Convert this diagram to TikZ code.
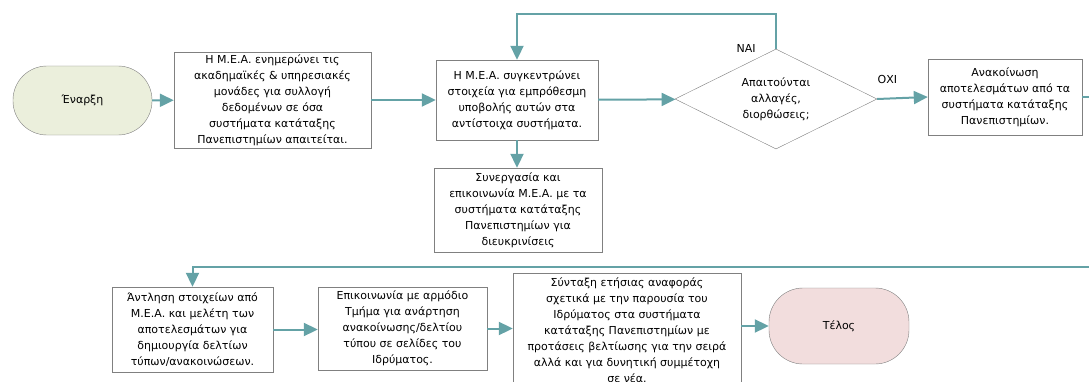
\documentclass[tikz,border=0pt]{standalone}
\usepackage{fontspec}
\setmainfont{DejaVu Sans}
\usepackage{tikz}
\usetikzlibrary{arrows.meta}
\usetikzlibrary{shapes.geometric}
\definecolor{flowcol}{RGB}{100,162,166}
\definecolor{linecol}{RGB}{128,128,128}
\definecolor{startcol}{RGB}{235,239,220}
\definecolor{endcol}{RGB}{242,221,221}
\begin{document}
\begin{tikzpicture}[
        x=1pt, y=1pt,
        font=\fontsize{11}{16}\selectfont,
        box/.style={draw=linecol, align=center, inner sep=2pt},
        term/.style={draw=linecol, rounded corners=34pt, align=center},
        flow/.style={draw=flowcol, line width=2pt, -{Triangle[length=14pt,width=13pt]}},
			]
		\useasboundingbox (0,0) rectangle (1089,381);
		\clip (0,0) rectangle (1089,381);
		\node [term, fill=startcol, minimum width=139pt, minimum height=69pt] (start) at (82.5,280.5) {Έναρξη};
		\node [box, minimum width=197pt, minimum height=96pt] (inform) at (272.5,281)
				{Η Μ.Ε.Α. ενημερώνει τις\\ακαδημαϊκές \& υπηρεσιακές\\μονάδες για συλλογή\\δεδομένων σε όσα\\συστήματα κατάταξης\\Πανεπιστημίων απαιτείται.};
		\node [box, minimum width=162pt, minimum height=80pt] (collect) at (517,281)
				{Η Μ.Ε.Α. συγκεντρώνει\\στοιχεία για εμπρόθεσμη\\υποβολής αυτών στα\\αντίστοιχα συστήματα.};
		\node [box, minimum width=168pt, minimum height=84pt] (cooperate) at (518,171)
				{Συνεργασία και\\επικοινωνία Μ.Ε.Α. με τα\\συστήματα κατάταξης\\Πανεπιστημίων για\\διευκρινίσεις};
		\node [draw=linecol, diamond, aspect=2, minimum width=202pt, minimum height=100pt, inner sep=0pt, align=center] (check) at (776,282)
				{Απαιτούνται\\αλλαγές,\\διορθώσεις;};
		\node [box, minimum width=154pt, minimum height=76pt] (announce) at (1005,284)
				{Ανακοίνωση\\αποτελεσμάτων από τα\\συστήματα κατάταξης\\Πανεπιστημίων.};
		\node [box, minimum width=161pt, minimum height=85pt] (extract) at (192.5,51.5)
				{Άντληση στοιχείων από\\Μ.Ε.Α. και μελέτη των\\αποτελεσμάτων για\\δημιουργία δελτίων\\τύπων/ανακοινώσεων.};
		\node [box, minimum width=169pt, minimum height=83pt] (contact) at (402.5,52.5)
				{Επικοινωνία με αρμόδιο\\Τμήμα για ανάρτηση\\ανακοίνωσης/δελτίου\\τύπου σε σελίδες του\\Ιδρύματος.};
		\node [box, minimum width=228pt, minimum height=114pt] (report) at (627,51)
				{Σύνταξη ετήσιας αναφοράς\\σχετικά με την παρουσία του\\Ιδρύματος στα συστήματα\\κατάταξης Πανεπιστημίων με\\προτάσεις βελτίωσης για την σειρά\\αλλά και για δυνητική συμμέτοχη\\σε νέα.};
		\node [term, fill=endcol, minimum width=140pt, minimum height=76pt] (finish) at (839,55) {Τέλος};
		\draw [flow] (start) -- (inform);
		\draw [flow] (inform) -- (collect);
		\draw [flow] (collect) -- (check);
		\draw [flow] (collect.south) -- (collect.south |- cooperate.north);
		\draw [flow] (check.north) node[left=16pt]{ΝΑΙ} -- ++(0,35) -| (collect.north);
		\draw [flow] (check.east) -- node[pos=0.2,above=11pt]{ΟΧΙ} (announce.west);
		\draw [flow] (announce.east) -- ++(20,0) -- ++(0,-170) -| (extract.north);
		\draw [flow] (extract.east) -- (extract.east -| contact.west);
		\draw [flow] (contact.east) -- (contact.east -| report.west);
		\draw [flow] (report.east |- finish.west) -- (finish.west);
	\end{tikzpicture}
\end{document}
